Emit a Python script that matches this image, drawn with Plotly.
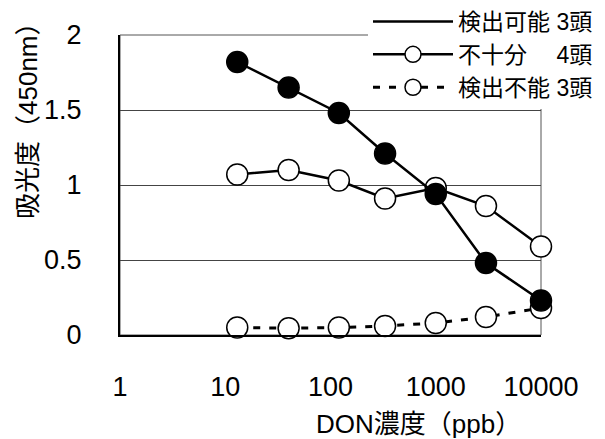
import plotly.graph_objects as go

conc = [13, 40, 120, 330, 1000, 3000, 10000]
detectable = [1.82, 1.65, 1.48, 1.21, 0.94, 0.48, 0.23]
insufficient = [1.07, 1.10, 1.03, 0.91, 0.98, 0.86, 0.59]
undetectable = [0.05, 0.045, 0.05, 0.06, 0.08, 0.12, 0.18]
x_ticks = [1, 10, 100, 1000, 10000]
x_tick_text = ["1", "10", "100", "1000", "10000"]
y_ticks = [0, 0.5, 1, 1.5, 2]
y_tick_text = ["0", "0.5", "1", "1.5", "2"]
names = ["検出可能 3頭", "不十分\u3000 4頭", "検出不能 3頭"]

FONT = "Arial, 'Liberation Sans', 'Noto Sans CJK JP', sans-serif"

W, H = 605, 439
L, R, T, B = 120, 64, 35, 104
pw, ph = W - L - R, H - T - B

def px_x(p):
    return (p - L) / pw

def px_y(p):
    return (H - B - p) / ph

fig = go.Figure()

fig.add_trace(go.Scatter(
    x=conc, y=undetectable, name=names[2], mode="lines+markers",
    line=dict(color="black", width=3, dash="7px,9px"),
    marker=dict(symbol="circle", size=21, color="white", line=dict(color="black", width=1.5)),
    cliponaxis=False,
))
fig.add_trace(go.Scatter(
    x=conc, y=insufficient, name=names[1], mode="lines+markers",
    line=dict(color="black", width=2.5),
    marker=dict(symbol="circle", size=21, color="white", line=dict(color="black", width=1.5)),
    cliponaxis=False,
))
fig.add_trace(go.Scatter(
    x=conc, y=detectable, name=names[0], mode="lines",
    line=dict(color="black", width=2.5),
    cliponaxis=False,
))
fig.add_trace(go.Scatter(
    x=conc, y=detectable, name=names[0], mode="markers", showlegend=False,
    marker=dict(symbol="circle", size=21, color="black", line=dict(color="black", width=1.5)),
    cliponaxis=False,
))

fig.add_shape(type="rect", xref="paper", yref="paper", x0=0, x1=1, y0=0, y1=1,
              line=dict(color="#555", width=1), layer="below")

fig.update_xaxes(
    type="log", range=[0, 4], tickvals=x_ticks, ticktext=x_tick_text,
    showgrid=False, zeroline=False, showline=True, linecolor="black", linewidth=2,
    ticks="", ticklabelstandoff=27,
    tickfont=dict(family=FONT, size=27, color="black"),
)
fig.update_yaxes(
    range=[0, 2], tickvals=y_ticks, ticktext=y_tick_text,
    showgrid=True, gridcolor="#444", gridwidth=1,
    zeroline=False, showline=True, linecolor="black", linewidth=2,
    ticks="", ticklabelstandoff=31,
    tickfont=dict(family=FONT, size=27, color="black"),
)

fig.add_annotation(text="DON濃度（ppb）", xref="paper", yref="paper",
                   x=px_x(418), y=px_y(424), xanchor="center", yanchor="middle",
                   showarrow=False, font=dict(family=FONT, size=26, color="black"))
fig.add_annotation(text="吸光度（450nm）", xref="paper", yref="paper",
                   x=px_x(28), y=px_y(114), xanchor="center", yanchor="middle",
                   textangle=-90, showarrow=False,
                   font=dict(family=FONT, size=26, color="black"))

fig.update_layout(
    width=W, height=H, autosize=False,
    margin=dict(l=L, r=R, t=T, b=B, autoexpand=False),
    paper_bgcolor="white", plot_bgcolor="white",
    showlegend=True,
    legend=dict(
        x=px_x(368), y=px_y(0), xanchor="left", yanchor="top",
        bgcolor="white", traceorder="reversed",
        font=dict(family=FONT, size=23, color="black"),
        itemwidth=80, tracegroupgap=0,
    ),
)

fig.write_html("out.html", config={"displayModeBar": False},
               post_script="document.body.style.margin='0';document.body.style.overflow='hidden';")
